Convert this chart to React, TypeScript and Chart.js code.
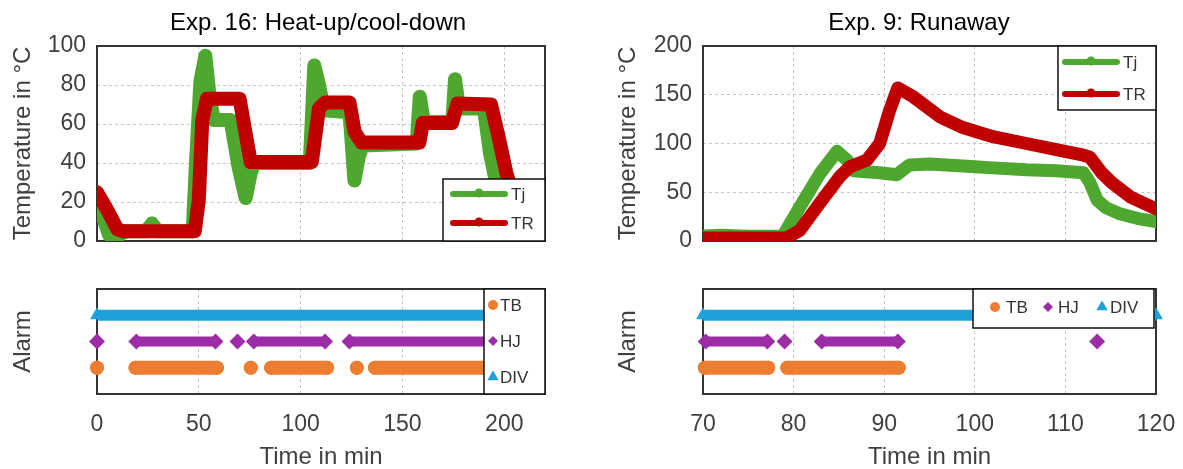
import React, { useEffect, useRef } from "react";
import { Chart, registerables } from "chart.js";

Chart.register(...registerables);

const W = 1183;
const H = 469;
const FONT = "'Liberation Sans', Arial, Helvetica, sans-serif";

// ---------------- Exp. 16: Heat-up/cool-down ----------------
const leftTitle = "Exp. 16: Heat-up/cool-down";
const leftXTicks = [0, 50, 100, 150, 200];
const leftYTicks = [0, 20, 40, 60, 80, 100];

const tjLeftTime = [0, 3, 6, 9, 12, 15, 24, 27, 30, 47, 48.5, 50.8, 53.2, 55.5, 57.5, 65.6, 69.5, 73, 75.5, 77.3, 104.5, 106.7, 109, 111.5, 124, 126.4, 128.5, 130.5, 157, 158.5, 160.5, 174.5, 175.8, 177.8, 190, 193, 196, 199];
const tjLeftTemp = [22, 12, 3, 0.5, 4, 5, 5, 9, 5, 5, 38, 82, 95, 72, 62, 62, 38, 22, 35, 40, 40, 90, 80, 67, 66, 31, 43, 49, 50, 74, 61, 61, 83, 68, 68, 45, 30, 22];

const trLeftTime = [0, 5, 10, 13, 48, 50, 51.7, 54, 70, 73, 75.5, 105.5, 109, 112, 124, 126.5, 130, 158.3, 160, 174.3, 177, 193.5, 197.5, 201, 204];
const trLeftTemp = [25, 16, 6, 5, 5, 21, 62, 73, 73, 55, 40.5, 40.5, 68, 71, 71, 56, 50.5, 50.5, 60.5, 60.5, 70.5, 70, 52, 35, 25];

// alarm intervals [start, end] in min
const tbLeftIntervals: [number, number][] = [[0, 0], [18.9, 58.9], [75.5, 75.5], [85.5, 113], [127.6, 127.6], [136.5, 200]];
const hjLeftIntervals: [number, number][] = [[0, 0], [19.3, 58.2], [69, 69], [77, 112], [124, 200]];
const divLeftIntervals: [number, number][] = [[0, 200]];

// ---------------- Exp. 9: Runaway ----------------
const rightTitle = "Exp. 9: Runaway";
const rightXTicks = [70, 80, 90, 100, 110, 120];
const rightYTicks = [0, 50, 100, 150, 200];

const tjRightTime = [70, 72, 75, 78.8, 80.7, 82.9, 84.8, 85.9, 86.6, 89.5, 91.4, 92.8, 95, 98.7, 102, 105.7, 109, 112, 112.7, 113.5, 114.5, 116, 118, 120];
const tjRightTemp = [5, 6, 5, 5, 35, 69, 92, 83, 72, 70, 68, 78, 79, 77, 75, 73, 72, 70, 60, 42, 34, 28, 23, 20];

const trRightTime = [70, 75, 79.2, 80.7, 82.9, 85.1, 86.2, 88.1, 89.5, 90.6, 91.5, 93.2, 96.2, 98.5, 102, 105.7, 109.4, 112, 112.7, 114, 115.1, 117.2, 120];
const trRightTemp = [3, 3, 3, 11, 39, 66, 76, 83, 100, 134, 157, 148, 127, 117, 107, 100, 93, 88, 86, 70, 60, 45, 33];

const tbRightIntervals: [number, number][] = [[70.2, 77.2], [79.3, 91.6]];
const hjRightIntervals: [number, number][] = [[70.3, 77.1], [79, 79], [83.1, 91.5], [113.5, 113.5]];
const divRightIntervals: [number, number][] = [[70, 120]];

// names / levels
const seriesNames = ["Tj", "TR"];
const alarmNames = ["TB", "HJ", "DIV"];
const alarmLevelTB = 1;
const alarmLevelHJ = 2;
const alarmLevelDIV = 3;

// ---------------- styles ----------------
const GREEN = "#4EA72E";
const RED = "#C00000";
const ORANGE = "#ED7D31";
const PURPLE = "#9C2DA6";
const BLUE = "#1DA1DC";
const GRID = "#c4c4c4";
const FRAME = "#333333";
const TEXT = "#404040";

function zip(xs: number[], ys: number[]) {
  return xs.map((x, i) => ({ x, y: ys[i] }));
}

function bandData(intervals: [number, number][], level: number) {
  const out: any[] = [];
  intervals.forEach(([a, b], i) => {
    if (i > 0) out.push({ x: a, y: null });
    out.push({ x: a, y: level });
    if (b !== a) out.push({ x: b, y: level });
  });
  return out;
}

function drawMarker(ctx: CanvasRenderingContext2D, kind: string, x: number, y: number, r: number) {
  ctx.beginPath();
  if (kind === "circle") {
    ctx.arc(x, y, r, 0, Math.PI * 2);
  } else if (kind === "diamond") {
    ctx.moveTo(x - r, y);
    ctx.lineTo(x, y - r);
    ctx.lineTo(x + r, y);
    ctx.lineTo(x, y + r);
    ctx.closePath();
  } else if (kind === "triangle") {
    ctx.moveTo(x, y - r);
    ctx.lineTo(x + r * 0.866, y + r * 0.5);
    ctx.lineTo(x - r * 0.866, y + r * 0.5);
    ctx.closePath();
  }
  ctx.fill();
}

const decorPlugin = {
  id: "decor",
  beforeDatasetsDraw(chart: any) {
    const { ctx, chartArea: a } = chart;
    ctx.save();
    ctx.strokeStyle = FRAME;
    ctx.lineWidth = 2;
    ctx.strokeRect(a.left, a.top, a.right - a.left, a.bottom - a.top);
    ctx.restore();
  },
  afterDraw(chart: any, _args: any, opts: any) {
    const ctx: CanvasRenderingContext2D = chart.ctx;
    ctx.save();
    if (opts.title) {
      ctx.font = `24px ${FONT}`;
      ctx.fillStyle = "#000";
      ctx.textAlign = "center";
      ctx.textBaseline = "middle";
      ctx.fillText(opts.title, opts.titleX, opts.titleY);
    }
    if (opts.legend) {
      const L = opts.legend;
      const [x1, y1, x2, y2] = L.box;
      ctx.fillStyle = "#fff";
      ctx.fillRect(x1, y1, x2 - x1, y2 - y1);
      ctx.strokeStyle = "#111";
      ctx.lineWidth = 1.5;
      ctx.strokeRect(x1, y1, x2 - x1, y2 - y1);
      for (const it of L.items) {
        ctx.fillStyle = it.color;
        ctx.strokeStyle = it.color;
        if (it.kind === "line") {
          ctx.lineWidth = 6;
          ctx.lineCap = "round";
          ctx.beginPath();
          ctx.moveTo(it.mx - 26, it.my);
          ctx.lineTo(it.mx + 26, it.my);
          ctx.stroke();
          drawMarker(ctx, "circle", it.mx, it.my - 1, 4.5);
        } else {
          drawMarker(ctx, it.kind, it.mx, it.my, it.r);
        }
        ctx.fillStyle = "#333";
        ctx.font = `17px ${FONT}`;
        ctx.textAlign = "left";
        ctx.textBaseline = "middle";
        ctx.fillText(it.text, it.tx, it.my + 1);
      }
    }
    ctx.restore();
  },
};

const tickFont = { family: FONT, size: 23 };
const axisTitleFont = { family: FONT, size: 24, lineHeight: 1.2 };

function lineDataset(label: string, xs: number[], ys: number[], color: string, width: number) {
  return {
    label,
    data: zip(xs, ys),
    borderColor: color,
    backgroundColor: color,
    borderWidth: width,
    borderCapStyle: "round",
    borderJoinStyle: "round",
    pointRadius: 0,
    tension: 0,
    fill: false,
  };
}

function alarmDatasets(tb: [number, number][], hj: [number, number][], div: [number, number][]) {
  return [
    {
      label: alarmNames[0],
      data: bandData(tb, alarmLevelTB),
      borderColor: ORANGE,
      backgroundColor: ORANGE,
      borderWidth: 14,
      borderCapStyle: "round",
      pointStyle: "circle",
      pointRadius: 7,
      pointBorderWidth: 0,
      spanGaps: false,
      clip: false,
    },
    {
      label: alarmNames[1],
      data: bandData(hj, alarmLevelHJ),
      borderColor: PURPLE,
      backgroundColor: PURPLE,
      borderWidth: 10,
      borderCapStyle: "butt",
      pointStyle: "rectRot",
      pointRadius: 8,
      pointBorderWidth: 0,
      spanGaps: false,
      clip: false,
    },
    {
      label: alarmNames[2],
      data: bandData(div, alarmLevelDIV),
      borderColor: BLUE,
      backgroundColor: BLUE,
      borderWidth: 11,
      borderCapStyle: "butt",
      pointStyle: "triangle",
      pointRadius: 8,
      pointBorderWidth: 0,
      spanGaps: false,
      clip: false,
    },
  ];
}

function xScale(min: number, max: number, ticks: number[], showLabels: boolean) {
  return {
    type: "linear",
    min,
    max,
    afterBuildTicks: (s: any) => {
      s.ticks = ticks.map((v) => ({ value: v }));
    },
    ticks: { display: showLabels, font: tickFont, color: TEXT, padding: 17, autoSkip: false, maxRotation: 0 },
    grid: { color: GRID, lineWidth: 1, drawTicks: false },
    border: { display: false, dash: [3, 3] },
    title: showLabels
      ? { display: true, text: "Time in min", font: { family: FONT, size: 24, lineHeight: 1 }, color: TEXT, padding: 0 }
      : { display: false },
    afterFit: (s: any) => {
      s.height = showLabels ? 75 : 0;
      s.paddingLeft = 0;
      s.paddingRight = 0;
    },
  };
}

function tempYScale(max: number, ticks: number[], width: number) {
  return {
    type: "linear",
    min: 0,
    max,
    afterBuildTicks: (s: any) => {
      s.ticks = ticks.map((v) => ({ value: v }));
    },
    ticks: { font: tickFont, color: TEXT, padding: 11 },
    grid: { color: GRID, lineWidth: 1, drawTicks: false },
    border: { display: false, dash: [3, 3] },
    title: { display: true, text: "Temperature in °C", font: axisTitleFont, color: TEXT, padding: { top: 9, bottom: 0 } },
    afterFit: (s: any) => {
      s.width = width;
    },
  };
}

function alarmYScale(width: number) {
  return {
    type: "linear",
    min: 0,
    max: 4,
    ticks: { display: false },
    grid: { display: false, drawTicks: false },
    border: { display: false },
    title: { display: true, text: "Alarm", font: axisTitleFont, color: TEXT, padding: { top: 9, bottom: 0 } },
    afterFit: (s: any) => {
      s.width = width;
    },
  };
}

function baseOptions(padding: any, decor: any, scales: any) {
  return {
    responsive: false,
    animation: false,
    events: [],
    layout: { padding },
    plugins: { legend: { display: false }, tooltip: { enabled: false }, title: { display: false }, decor },
    scales,
  };
}

function configTopLeft(): any {
  return {
    type: "line",
    data: {
      datasets: [
        lineDataset(seriesNames[1], trLeftTime, trLeftTemp, RED, 14),
        lineDataset(seriesNames[0], tjLeftTime, tjLeftTemp, GREEN, 14),
      ],
    },
    options: baseOptions(
      { left: 0, top: 46, right: W - 545, bottom: H - 241 },
      {
        title: leftTitle,
        titleX: 318,
        titleY: 23,
        legend: {
          box: [443, 179, 545, 241],
          items: [
            { kind: "line", color: GREEN, mx: 479, my: 194, tx: 511, text: seriesNames[0] },
            { kind: "line", color: RED, mx: 479, my: 223, tx: 511, text: seriesNames[1] },
          ],
        },
      },
      { x: xScale(0, 220, leftXTicks, false), y: tempYScale(100, leftYTicks, 97) }
    ),
    plugins: [decorPlugin],
  };
}

function configBottomLeft(): any {
  return {
    type: "line",
    data: { datasets: alarmDatasets(tbLeftIntervals, hjLeftIntervals, divLeftIntervals) },
    options: baseOptions(
      { left: 0, top: 289, right: W - 545, bottom: 0 },
      {
        legend: {
          box: [484, 289, 545, 394],
          items: [
            { kind: "circle", r: 5, color: ORANGE, mx: 493, my: 305, tx: 500, text: alarmNames[0] },
            { kind: "diamond", r: 5, color: PURPLE, mx: 493, my: 341, tx: 500, text: alarmNames[1] },
            { kind: "triangle", r: 6.5, color: BLUE, mx: 493, my: 377, tx: 500, text: alarmNames[2] },
          ],
        },
      },
      { x: xScale(0, 220, leftXTicks, true), y: alarmYScale(97) }
    ),
    plugins: [decorPlugin],
  };
}

function configTopRight(): any {
  return {
    type: "line",
    data: {
      datasets: [
        lineDataset(seriesNames[1], trRightTime, trRightTemp, RED, 13),
        lineDataset(seriesNames[0], tjRightTime, tjRightTemp, GREEN, 13),
      ],
    },
    options: baseOptions(
      { left: 605, top: 46, right: W - 1156, bottom: H - 241 },
      {
        title: rightTitle,
        titleX: 919,
        titleY: 23,
        legend: {
          box: [1058, 46, 1156, 110],
          items: [
            { kind: "line", color: GREEN, mx: 1091, my: 62, tx: 1123, text: seriesNames[0] },
            { kind: "line", color: RED, mx: 1091, my: 94, tx: 1123, text: seriesNames[1] },
          ],
        },
      },
      { x: xScale(70, 120, rightXTicks, false), y: tempYScale(200, rightYTicks, 98) }
    ),
    plugins: [decorPlugin],
  };
}

function configBottomRight(): any {
  return {
    type: "line",
    data: { datasets: alarmDatasets(tbRightIntervals, hjRightIntervals, divRightIntervals) },
    options: baseOptions(
      { left: 605, top: 289, right: W - 1156, bottom: 0 },
      {
        legend: {
          box: [973, 289, 1154, 328],
          items: [
            { kind: "circle", r: 5, color: ORANGE, mx: 995, my: 307, tx: 1006, text: alarmNames[0] },
            { kind: "diamond", r: 5, color: PURPLE, mx: 1048, my: 307, tx: 1058, text: alarmNames[1] },
            { kind: "triangle", r: 6.5, color: BLUE, mx: 1102, my: 307, tx: 1110, text: alarmNames[2] },
          ],
        },
      },
      { x: xScale(70, 120, rightXTicks, true), y: alarmYScale(98) }
    ),
    plugins: [decorPlugin],
  };
}

export default function App() {
  const r1 = useRef<HTMLCanvasElement>(null);
  const r2 = useRef<HTMLCanvasElement>(null);
  const r3 = useRef<HTMLCanvasElement>(null);
  const r4 = useRef<HTMLCanvasElement>(null);

  useEffect(() => {
    const charts = [
      new Chart(r1.current!, configTopLeft()),
      new Chart(r2.current!, configBottomLeft()),
      new Chart(r3.current!, configTopRight()),
      new Chart(r4.current!, configBottomRight()),
    ];
    return () => charts.forEach((c) => c.destroy());
  }, []);

  const cs: React.CSSProperties = { position: "absolute", left: 0, top: 0, width: W, height: H };
  return (
    <div style={{ position: "absolute", left: 0, top: 0, width: W, height: H, background: "#fff" }}>
      <canvas ref={r1} width={W} height={H} style={cs} />
      <canvas ref={r2} width={W} height={H} style={cs} />
      <canvas ref={r3} width={W} height={H} style={cs} />
      <canvas ref={r4} width={W} height={H} style={cs} />
    </div>
  );
}
